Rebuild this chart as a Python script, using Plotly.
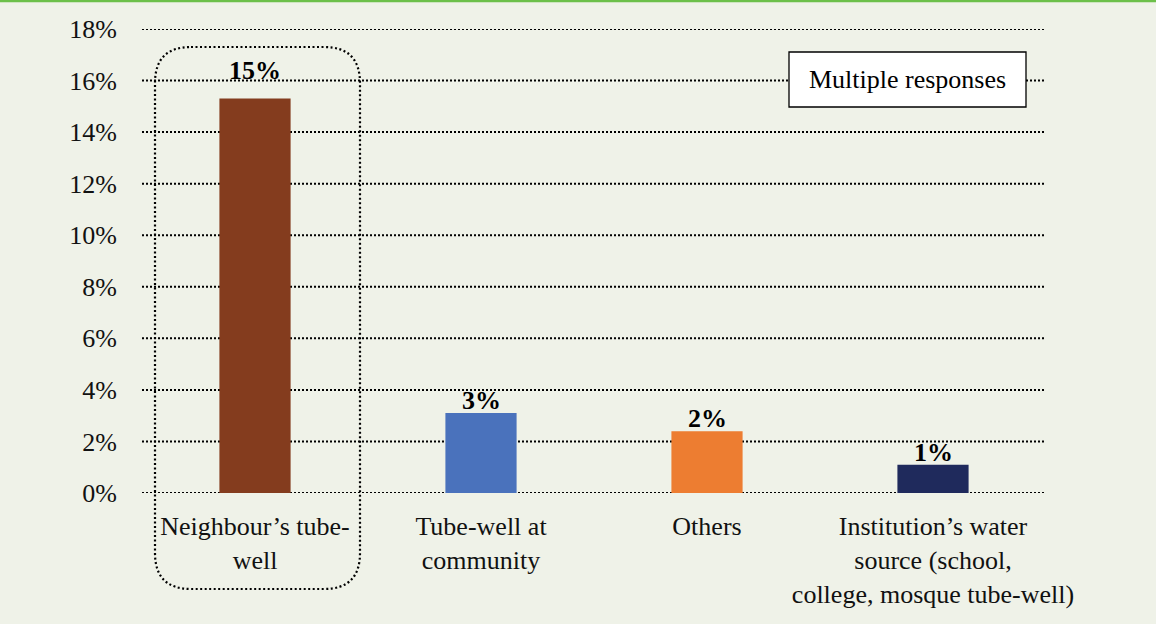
import plotly.graph_objects as go

# Alternative water sources (multiple responses), share of households in %
categories = [
    "Neighbour’s tube-<br>well",
    "Tube-well at<br>community",
    "Others",
    "Institution’s water<br>source (school,<br>college, mosque tube-well)",
]
values = [15.3, 3.1, 2.4, 1.1]
bar_colors = ["#843C1E", "#4A72BC", "#ED7D31", "#1F2A5C"]
y_ticks = [0, 2, 4, 6, 8, 10, 12, 14, 16, 18]
y_ticktext = [f"{t}%" for t in y_ticks]

# styling
label_shift = [16, 0, 0, 0]
W, H = 1156, 624
ML, MR, MT, MB = 142, 110, 29, 131
PW, PH = W - ML - MR, H - MT - MB
FONT = "Liberation Serif, Times New Roman, serif"
FS = 26
BG = "#EFF2E8"


def px_x(p):
    return (p - ML) / PW


def px_y(p):
    return (H - MB - p) / PH


fig = go.Figure()

# dotted horizontal grid at every tick
for t in y_ticks:
    fig.add_shape(type="line", xref="paper", yref="y", x0=0, x1=1, y0=t, y1=t,
                  line=dict(color="black", width=2, dash="2px,2px"), layer="below")

fig.add_trace(
    go.Bar(
        x=list(range(len(categories))),
        y=values,
        marker=dict(color=bar_colors, line=dict(width=0)),
        width=0.315,
        hoverinfo="skip",
    )
)

for i, v in enumerate(values):
    fig.add_annotation(
        x=i, y=v, xref="x", yref="y",
        text=f"<b>{round(v):d}%</b>",
        showarrow=False, xanchor="center", yanchor="bottom",
        yshift=label_shift[i] - 4,
        font=dict(family=FONT, size=FS, color="black"),
    )

# rounded dotted outline around the first category
x0, x1 = px_x(155), px_x(360)
y0, y1 = px_y(589), px_y(47)
rx, ry = 36 / PW, 36 / PH
path = (
    f"M {x0 + rx},{y1} L {x1 - rx},{y1} Q {x1},{y1} {x1},{y1 - ry} "
    f"L {x1},{y0 + ry} Q {x1},{y0} {x1 - rx},{y0} "
    f"L {x0 + rx},{y0} Q {x0},{y0} {x0},{y0 + ry} "
    f"L {x0},{y1 - ry} Q {x0},{y1} {x0 + rx},{y1} Z"
)
fig.add_shape(type="path", path=path, xref="paper", yref="paper",
              line=dict(color="black", width=2.2, dash="2px,2.5px"))

# note box
fig.add_shape(type="rect", xref="paper", yref="paper",
              x0=px_x(789), x1=px_x(1026), y0=px_y(107), y1=px_y(52),
              fillcolor="white", line=dict(color="black", width=1.3))
fig.add_annotation(x=(px_x(789) + px_x(1026)) / 2, y=(px_y(107) + px_y(52)) / 2,
                   xref="paper", yref="paper", text="Multiple responses",
                   xanchor="center", yanchor="middle",
                   showarrow=False, font=dict(family=FONT, size=FS, color="black"))

# green rule along the top edge
fig.add_shape(type="line", xref="paper", yref="paper",
              x0=-ML / PW, x1=(W - ML) / PW, y0=px_y(1), y1=px_y(1),
              line=dict(color="#6CC04A", width=2.5))

fig.update_layout(
    width=W, height=H,
    margin=dict(l=ML, r=MR, t=MT, b=MB),
    paper_bgcolor=BG, plot_bgcolor=BG,
    showlegend=False,
    font=dict(family=FONT, size=FS, color="black"),
    xaxis=dict(
        tickmode="array", tickvals=list(range(len(categories))), ticktext=categories,
        range=[-0.5, 3.5], showgrid=False, zeroline=False, showline=False,
        ticks="", ticklabelstandoff=15,
        tickfont=dict(family=FONT, size=FS, color="#111111"),
    ),
    yaxis=dict(
        range=[0, 18], tickmode="array", tickvals=y_ticks, ticktext=y_ticktext,
        showgrid=False, zeroline=False, showline=False, ticks="",
        ticklabelstandoff=24,
        tickfont=dict(family=FONT, size=FS, color="#111111"),
    ),
)

fig.write_html("out.html")
